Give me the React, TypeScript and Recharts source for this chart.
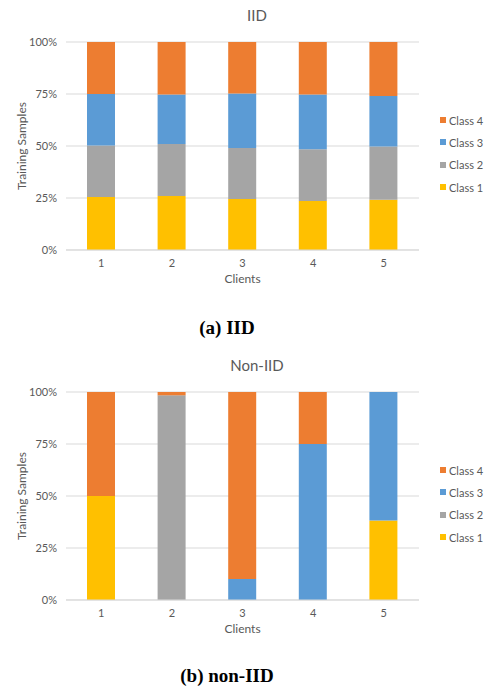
import { Bar, BarChart, CartesianGrid, Legend, XAxis, YAxis } from 'recharts'

const clients = ['1', '2', '3', '4', '5']
const classNames = ['Class 1', 'Class 2', 'Class 3', 'Class 4']
const classColors = ['#FFC000', '#A5A5A5', '#5B9BD5', '#ED7D31']
const percentTicks = [0, 25, 50, 75, 100]

// IID split, % of each client's samples
const iidClass1 = [25.5, 26, 24.5, 23.5, 24.2]
const iidClass2 = [24.8, 25, 24.5, 24.9, 25.5]
const iidClass3 = [24.7, 23.7, 26.2, 26.3, 24.3]
const iidClass4 = [25, 25.3, 24.8, 25.3, 26]

// non-IID split
const nonIidClass1 = [50, 0, 0, 0, 38.2]
const nonIidClass2 = [0, 98.4, 0, 0, 0]
const nonIidClass3 = [0, 0, 10.1, 75, 61.8]
const nonIidClass4 = [50, 1.6, 89.9, 25, 0]

type Row = { client: string; c1: number; c2: number; c3: number; c4: number }

function buildRows(a: number[], b: number[], c: number[], d: number[]): Row[] {
  return clients.map((client, i) => ({ client, c1: a[i], c2: b[i], c3: c[i], c4: d[i] }))
}

const iidRows = buildRows(iidClass1, iidClass2, iidClass3, iidClass4)
const nonIidRows = buildRows(nonIidClass1, nonIidClass2, nonIidClass3, nonIidClass4)

const FONT = 'Lato, "Open Sans", sans-serif'
const TEXT = '#595959'

function LegendList() {
  const items = classNames.map((name, i) => ({ name, color: classColors[i] })).reverse()
  return (
    <div style={{ fontFamily: FONT, fontSize: 11, color: TEXT }}>
      {items.map((it) => (
        <div key={it.name} style={{ display: 'flex', alignItems: 'center', height: 22.3 }}>
          <span style={{ width: 6, height: 6, background: it.color, marginRight: 3 }} />
          {it.name}
        </div>
      ))}
    </div>
  )
}

function StackChart({ title, rows }: { title: string; rows: Row[] }) {
  return (
    <div style={{ position: 'relative', width: 488, height: 300 }}>
      <div
        style={{
          position: 'absolute',
          top: 6,
          left: 0,
          width: 514,
          textAlign: 'center',
          fontFamily: FONT,
          fontSize: 15,
          color: TEXT,
        }}
      >
        {title}
      </div>
      <BarChart
        width={488}
        height={300}
        data={rows}
        margin={{ top: 42, right: 69, left: 0, bottom: 17 }}
        barSize={28}
      >
        <CartesianGrid stroke="#D9D9D9" vertical={false} />
        <XAxis
          dataKey="client"
          height={33}
          tick={{ fill: TEXT, fontSize: 11, fontFamily: FONT }}
          axisLine={{ stroke: '#D9D9D9' }}
          tickLine={false}
          tickMargin={3}
          label={{
            value: 'Clients',
            position: 'insideBottom',
            offset: 0,
            fill: TEXT,
            fontSize: 12,
            fontFamily: FONT,
          }}
        />
        <YAxis
          width={66}
          domain={[0, 100]}
          ticks={percentTicks}
          tickFormatter={(v: number) => `${v}%`}
          tick={{ fill: TEXT, fontSize: 11, fontFamily: FONT }}
          axisLine={false}
          tickLine={false}
          tickMargin={3}
          label={{
            value: 'Training Samples',
            angle: -90,
            position: 'insideLeft',
            offset: 22,
            fill: TEXT,
            fontSize: 12,
            fontFamily: FONT,
            style: { textAnchor: 'middle' },
          }}
        />
        <Legend
          layout="vertical"
          align="center"
          verticalAlign="middle"
          wrapperStyle={{ left: 440, top: 109, width: 60 }}
          content={() => <LegendList />}
        />
        {(['c1', 'c2', 'c3', 'c4'] as const).map((key, i) => (
          <Bar
            key={key}
            dataKey={key}
            name={classNames[i]}
            stackId="s"
            fill={classColors[i]}
            isAnimationActive={false}
          />
        ))}
      </BarChart>
    </div>
  )
}

const captionStyle = {
  position: 'absolute' as const,
  left: 0,
  width: 454,
  textAlign: 'center' as const,
  fontFamily: '"Liberation Serif", serif',
  fontWeight: 'bold' as const,
  fontSize: 19,
  lineHeight: '22px',
}

export default function App() {
  return (
    <div style={{ position: 'absolute', top: 0, left: 0, width: 488, height: 686, background: '#fff' }}>
      <StackChart title="IID" rows={iidRows} />
      <div style={{ ...captionStyle, top: 317 }}>(a) IID</div>
      <div style={{ position: 'absolute', top: 350, left: 0, width: 488, height: 300 }}>
        <StackChart title="Non-IID" rows={nonIidRows} />
      </div>
      <div style={{ ...captionStyle, top: 665 }}>(b) non-IID</div>
    </div>
  )
}
